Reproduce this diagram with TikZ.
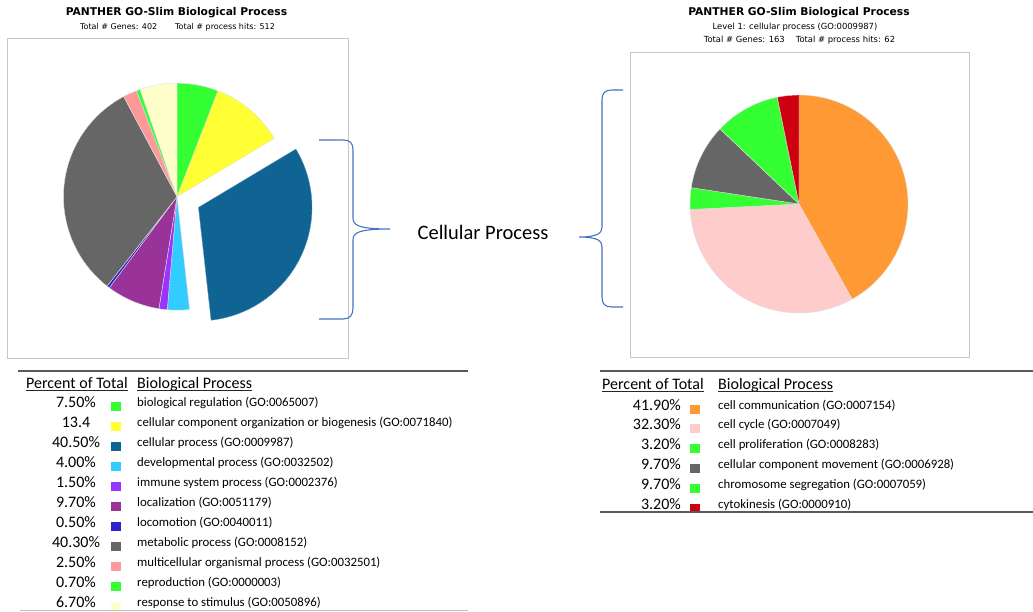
\documentclass[tikz,border=0pt]{standalone}
\usepackage{fontspec}
\setmainfont{Carlito}
\newfontfamily\chartfont{DejaVu Sans}
\usepackage{tikz}

\definecolor{bioreg}{RGB}{51,255,51}
\definecolor{ccorg}{RGB}{255,255,51}
\definecolor{cellproc}{RGB}{16,100,148}
\definecolor{devproc}{RGB}{51,204,255}
\definecolor{immune}{RGB}{153,51,255}
\definecolor{localiz}{RGB}{153,51,153}
\definecolor{locomo}{RGB}{45,35,200}
\definecolor{metab}{RGB}{102,102,102}
\definecolor{multicell}{RGB}{255,153,153}
\definecolor{response}{RGB}{255,255,204}
\definecolor{commun}{RGB}{255,153,51}
\definecolor{cellcycle}{RGB}{255,204,204}
\definecolor{cytokin}{RGB}{204,0,17}
\definecolor{braceblue}{RGB}{68,114,196}
\definecolor{rulegray}{RGB}{90,90,90}

\begin{document}
\begin{tikzpicture}[x = 1pt, y = 1pt,
                        chartbox/.style = {draw = black!22, line width = 0.8pt},
                        title/.style = {font = \chartfont\bfseries\fontsize{10.7}{12}\selectfont, inner sep = 0pt},
                        subtitle/.style = {font = \chartfont\fontsize{8.4}{10}\selectfont, inner sep = 0pt},
                        slice/.style = {draw = black!12, line width = 0.4pt},
                        bracket/.style = {draw = braceblue, line width = 1.1pt},
                        head/.style = {font = \fontsize{16}{18}\selectfont, anchor = west, inner sep = 0pt,
                                       text height = 10.3pt, text depth = 0pt},
                        headrule/.style = {draw = black!85, line width = 0.9pt},
                        percent/.style = {font = \fontsize{16}{18}\selectfont, inner sep = 0pt,
                                          text height = 10.3pt, text depth = 0pt},
                        process/.style = {font = \fontsize{12.8}{14}\selectfont, anchor = west, inner sep = 0pt,
                                          text height = 8.2pt, text depth = 0pt},
                        legend/.style = {rectangle, minimum width = 10pt, minimum height = 9pt, inner sep = 0pt}]
      \useasboundingbox (0, 0) rectangle (1033, 611);

      % left chart
      \node [title] (ltitle) at (176.5, 598){PANTHER GO-Slim Biological Process};
      \node [subtitle, font = \chartfont\fontsize{8}{10}\selectfont] (lsub) at (177.5, 584)
            {Total \# Genes: 402\hspace{18pt}Total \# process hits: 512};
      \draw [chartbox] (7, 253) rectangle (348, 573);

      \coordinate (lc) at (177, 414.3);
      \coordinate (lcb) at (198.5, 403.6);
      \path [slice, fill = bioreg] (lc) -- ++(90:113.5) arc [start angle = 90, end angle = 68.79, radius = 113.5pt] -- cycle;
      \path [slice, fill = ccorg] (lc) -- ++(68.79:113.5) arc [start angle = 68.79, end angle = 30.90, radius = 113.5pt] -- cycle;
      \path [slice, fill = cellproc, draw = cellproc!70!white] (lcb) -- ++(30.90:113.5) arc [start angle = 30.90, end angle = -83.63, radius = 113.5pt] -- cycle;
      \path [slice, fill = devproc] (lc) -- ++(-83.63:113.5) arc [start angle = -83.63, end angle = -94.94, radius = 113.5pt] -- cycle;
      \path [slice, fill = immune] (lc) -- ++(-94.94:113.5) arc [start angle = -94.94, end angle = -99.18, radius = 113.5pt] -- cycle;
      \path [slice, fill = localiz] (lc) -- ++(-99.18:113.5) arc [start angle = -99.18, end angle = -126.61, radius = 113.5pt] -- cycle;
      \path [slice, fill = locomo] (lc) -- ++(-126.61:113.5) arc [start angle = -126.61, end angle = -128.02, radius = 113.5pt] -- cycle;
      \path [slice, fill = metab] (lc) -- ++(-128.02:113.5) arc [start angle = -128.02, end angle = -241.99, radius = 113.5pt] -- cycle;
      \path [slice, fill = multicell] (lc) -- ++(-241.99:113.5) arc [start angle = -241.99, end angle = -249.06, radius = 113.5pt] -- cycle;
      \path [slice, fill = bioreg] (lc) -- ++(-249.06:113.5) arc [start angle = -249.06, end angle = -251.04, radius = 113.5pt] -- cycle;
      \path [slice, fill = response] (lc) -- ++(-251.04:113.5) arc [start angle = -251.04, end angle = -270, radius = 113.5pt] -- cycle;

      % braces
      \draw [bracket] (319, 471) -- (343, 471) .. controls (350, 471) and (353, 468) .. (353, 461)
            -- (353, 393) .. controls (353, 386) and (358, 382) .. (390, 382)
            .. controls (358, 382) and (353, 378) .. (353, 371)
            -- (353, 303) .. controls (353, 296) and (350, 292) .. (343, 292) -- (319, 292);
      \node [font = \fontsize{20.5}{24}\selectfont] (cellular) at (483, 379){Cellular Process};
      \draw [bracket] (623, 521) -- (612, 521) .. controls (605, 521) and (602, 518) .. (602, 511)
            -- (602, 384) .. controls (602, 378) and (598, 374) .. (579, 374)
            .. controls (598, 374) and (602, 370) .. (602, 364)
            -- (602, 314) .. controls (602, 307) and (605, 304) .. (612, 304) -- (623, 304);

      % right chart
      \node [title] (rtitle) at (799, 598){PANTHER GO-Slim Biological Process};
      \node [subtitle] (rlevel) at (795, 584){Level 1: cellular process (GO:0009987)};
      \node [subtitle] (rsub) at (799.5, 571){Total \# Genes: 163\hspace{11pt}Total \# process hits: 62};
      \draw [chartbox] (630, 254) rectangle (969, 559);

      \coordinate (rc) at (799, 407);
      \path [slice, fill = commun] (rc) -- ++(90:109) arc [start angle = 90, end angle = -60.84, radius = 109pt] -- cycle;
      \path [slice, fill = cellcycle] (rc) -- ++(-60.84:109) arc [start angle = -60.84, end angle = -177.12, radius = 109pt] -- cycle;
      \path [slice, fill = bioreg] (rc) -- ++(-177.12:109) arc [start angle = -177.12, end angle = -188.64, radius = 109pt] -- cycle;
      \path [slice, fill = metab] (rc) -- ++(-188.64:109) arc [start angle = -188.64, end angle = -223.56, radius = 109pt] -- cycle;
      \path [slice, fill = bioreg] (rc) -- ++(-223.56:109) arc [start angle = -223.56, end angle = -258.48, radius = 109pt] -- cycle;
      \path [slice, fill = cytokin] (rc) -- ++(-258.48:109) arc [start angle = -258.48, end angle = -270, radius = 109pt] -- cycle;

      % left table
      \draw [draw = rulegray, line width = 1.6pt] (18, 240) -- (468, 240);
      \node [head] (lh1) at (26, 228){Percent of Total};
      \node [head] (lh2) at (137, 228){Biological Process};
      \draw [headrule] ([yshift = -2.5pt]lh1.south west) -- ([yshift = -2.5pt]lh1.south east);
      \draw [headrule] ([yshift = -2.5pt]lh2.south west) -- ([yshift = -2.5pt]lh2.south east);

      \node [percent] (lp1) at (76, 209){7.50\%};
      \node [percent] (lp2) at (76, 189){13.4};
      \node [percent] (lp3) at (76, 169){40.50\%};
      \node [percent] (lp4) at (76, 149){4.00\%};
      \node [percent] (lp5) at (76, 129){1.50\%};
      \node [percent] (lp6) at (76, 109){9.70\%};
      \node [percent] (lp7) at (76, 89){0.50\%};
      \node [percent] (lp8) at (76, 69){40.30\%};
      \node [percent] (lp9) at (76, 49){2.50\%};
      \node [percent] (lp10) at (76, 29){0.70\%};
      \node [percent] (lp11) at (76, 9){6.70\%};

      \node [legend, fill = bioreg] (ls1) at (115.5, 205){};
      \node [legend, fill = ccorg] (ls2) at (115.5, 185){};
      \node [legend, fill = cellproc] (ls3) at (115.5, 165){};
      \node [legend, fill = devproc] (ls4) at (115.5, 145){};
      \node [legend, fill = immune] (ls5) at (115.5, 125){};
      \node [legend, fill = localiz] (ls6) at (115.5, 105){};
      \node [legend, fill = locomo] (ls7) at (115.5, 85){};
      \node [legend, fill = metab] (ls8) at (115.5, 65){};
      \node [legend, fill = multicell] (ls9) at (115.5, 45){};
      \node [legend, fill = bioreg] (ls10) at (115.5, 25){};
      \node [legend, fill = response] (ls11) at (115.5, 5){};

      \node [process] (ln1) at (137, 209){biological regulation (GO:0065007)};
      \node [process] (ln2) at (137, 189){cellular component organization or biogenesis (GO:0071840)};
      \node [process] (ln3) at (137, 169){cellular process (GO:0009987)};
      \node [process] (ln4) at (137, 149){developmental process (GO:0032502)};
      \node [process] (ln5) at (137, 129){immune system process (GO:0002376)};
      \node [process] (ln6) at (137, 109){localization (GO:0051179)};
      \node [process] (ln7) at (137, 89){locomotion (GO:0040011)};
      \node [process] (ln8) at (137, 69){metabolic process (GO:0008152)};
      \node [process] (ln9) at (137, 49){multicellular organismal process (GO:0032501)};
      \node [process] (ln10) at (137, 29){reproduction (GO:0000003)};
      \node [process] (ln11) at (137, 9){response to stimulus (GO:0050896)};
      \draw [draw = black!25, line width = 0.8pt] (20, 1) -- (468, 1);

      % right table
      \draw [draw = rulegray, line width = 1.6pt] (600, 240) -- (1033, 240);
      \node [head] (rh1) at (602, 227){Percent of Total};
      \node [head] (rh2) at (718, 227){Biological Process};
      \draw [headrule] ([yshift = -2.5pt]rh1.south west) -- ([yshift = -2.5pt]rh1.south east);
      \draw [headrule] ([yshift = -2.5pt]rh2.south west) -- ([yshift = -2.5pt]rh2.south east);

      \node [percent, anchor = east] (rp1) at (681, 206){41.90\%};
      \node [percent, anchor = east] (rp2) at (681, 187){32.30\%};
      \node [percent, anchor = east] (rp3) at (681, 167){3.20\%};
      \node [percent, anchor = east] (rp4) at (681, 147){9.70\%};
      \node [percent, anchor = east] (rp5) at (681, 127){9.70\%};
      \node [percent, anchor = east] (rp6) at (681, 107){3.20\%};

      \node [legend, fill = commun] (rs1) at (695, 202){};
      \node [legend, fill = cellcycle] (rs2) at (695, 183){};
      \node [legend, fill = bioreg] (rs3) at (695, 163){};
      \node [legend, fill = metab] (rs4) at (695, 143){};
      \node [legend, fill = bioreg] (rs5) at (695, 123){};
      \node [legend, fill = cytokin] (rs6) at (695, 103){};

      \node [process] (rn1) at (718, 206){cell communication (GO:0007154)};
      \node [process] (rn2) at (718, 187){cell cycle (GO:0007049)};
      \node [process] (rn3) at (718, 167){cell proliferation (GO:0008283)};
      \node [process] (rn4) at (718, 147){cellular component movement (GO:0006928)};
      \node [process] (rn5) at (718, 127){chromosome segregation (GO:0007059)};
      \node [process] (rn6) at (718, 107){cytokinesis (GO:0000910)};
      \draw [draw = rulegray, line width = 1.6pt] (600, 99) -- (1033, 99);
\end{tikzpicture}
\end{document}
